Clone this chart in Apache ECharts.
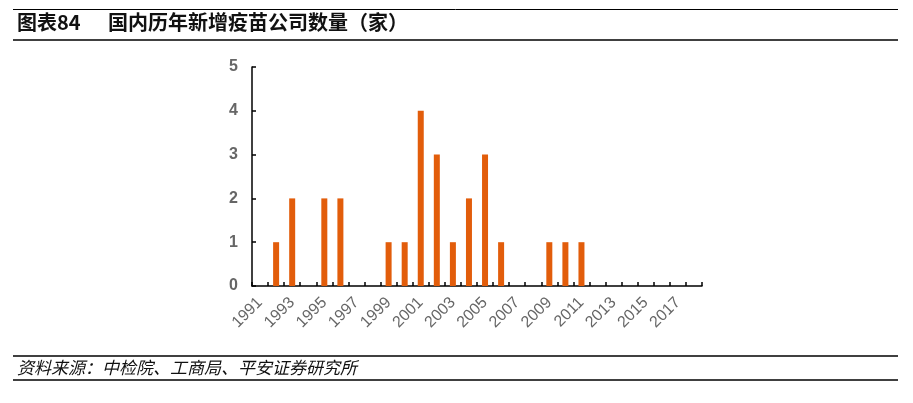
<!DOCTYPE html>
<html>
<head>
<meta charset="utf-8">
<script src="https://cdn.jsdelivr.net/npm/echarts@6/dist/echarts.min.js"></script>
<style>html,body{margin:0;padding:0;background:#fff;}#c{width:913px;height:403px;}</style>
</head>
<body>
<div id="c"></div>
<script>
var years = ['1991','1992','1993','1994','1995','1996','1997','1998','1999','2000','2001','2002','2003','2004','2005','2006','2007','2008','2009','2010','2011','2012','2013','2014','2015','2016','2017','2018'];
var newCompanies = [0,1,2,0,2,2,0,0,1,1,4,3,1,2,3,1,0,0,1,1,1,0,0,0,0,0,0,0];
var yTicks = [0,1,2,3,4,5];

var chart = echarts.init(document.getElementById('c'), null, {renderer:'canvas'});
var cjk = '"Noto Sans CJK SC", "Liberation Sans", sans-serif';
chart.setOption({
  animation: false,
  backgroundColor: '#fff',
  grid: {left: 252, right: 211, top: 67, bottom: 117, containLabel: false},
  xAxis: {
    type: 'category',
    data: years,
    axisLine: {lineStyle: {color: '#000', width: 1.5}},
    axisTick: {show: true, inside: true, length: 4, interval: 0, lineStyle: {color: '#000', width: 1.5}},
    axisLabel: {interval: 1, rotate: 45, margin: 14, fontSize: 16, color: '#666', fontFamily: '"Liberation Sans", Arial, sans-serif'},
    splitLine: {show: false}
  },
  yAxis: {
    type: 'value',
    min: yTicks[0], max: yTicks[yTicks.length-1], interval: 1,
    axisLine: {show: true, lineStyle: {color: '#000', width: 1.5}},
    axisTick: {show: true, inside: true, length: 4, lineStyle: {color: '#000', width: 1.5}},
    axisLabel: {margin: 14, fontSize: 16, fontWeight: 'bold', color: '#666', fontFamily: '"Liberation Sans", Arial, sans-serif'},
    splitLine: {show: false}
  },
  series: [{
    type: 'bar',
    data: newCompanies,
    barWidth: 6,
    itemStyle: {color: '#E25D0B'}
  }],
  graphic: [
    {type: 'line', shape: {x1: 13, y1: 9.5, x2: 898, y2: 9.5}, style: {stroke: '#000', lineWidth: 1}},
    {type: 'line', shape: {x1: 13, y1: 40, x2: 898, y2: 40}, style: {stroke: '#000', lineWidth: 1.3}},
    {type: 'text', left: 17, top: 12, style: {text: '图表84', font: 'bold 20px ' + cjk, fill: '#111'}},
    {type: 'text', left: 108, top: 12, style: {text: '国内历年新增疫苗公司数量（家）', font: 'bold 20px ' + cjk, fill: '#111'}},
    {type: 'line', shape: {x1: 13, y1: 356, x2: 898, y2: 356}, style: {stroke: '#000', lineWidth: 1.3}},
    {type: 'line', shape: {x1: 13, y1: 380, x2: 898, y2: 380}, style: {stroke: '#000', lineWidth: 1.3}},
    {type: 'text', left: 17, top: 359, style: {text: '资料来源：中检院、工商局、平安证券研究所', font: 'italic 17px ' + cjk, fill: '#111'}}
  ]
});
</script>
</body>
</html>
